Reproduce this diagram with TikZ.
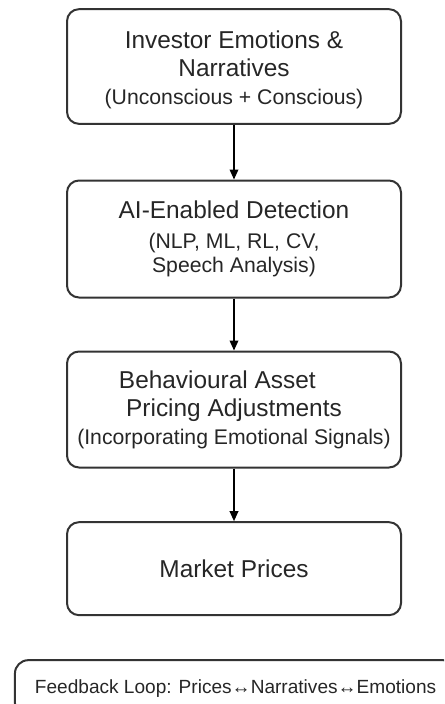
\documentclass[tikz,border=0pt]{standalone}
\usepackage{fontspec}
\setmainfont{Liberation Sans}
\usetikzlibrary{positioning,arrows.meta}
\newcommand{\subline}{\fontsize{15.9pt}{17pt}\selectfont}
\tikzset{
  stage/.style={
    rectangle,
    rounded corners=9pt,
    minimum width=250.5pt,
    minimum height=86pt,
    align=center,
    draw=black!80,
    line width=1.5pt,
    text=black!85,
    font=\fontsize{18.3pt}{20pt}\selectfont
    },
  feedback/.style={
    rectangle,
    rounded corners=10pt,
    minimum width=331pt,
    minimum height=42pt,
    align=center,
    draw=black!80,
    line width=1.5pt,
    text=black!85,
    font=\fontsize{14.3pt}{16pt}\selectfont
    },
  arrow/.style={line width=1.1pt,-{Triangle[length=7.5pt,width=6.5pt]}},
}

\begin{document}
\begin{tikzpicture}[
            x = 0.75pt, y = -0.75pt, % pixel grid
            node distance = 39.5pt % gap between boxes
        ]
  \path[use as bounding box, clip] (0,0) rectangle (444,704);

  \node[stage] (emotions) at (234,66.5)
    {\rule{0pt}{18.5pt}Investor Emotions \&\\[0.5pt] Narratives\\[1pt] {\subline (Unconscious + Conscious)}};
  \node[stage, minimum height=87.75pt] (detect) [below=41pt of emotions]
    {AI-Enabled Detection\\[3pt] {\subline (NLP, ML, RL, CV,}\\[-2pt] {\subline Speech Analysis)}};
  \node[stage, minimum height=87pt] (pricing) [below=39pt of detect]
    {Behavioural Asset\hspace*{25pt}\\[1pt] Pricing Adjustments\\[1pt] {\subline (Incorporating Emotional Signals)}};
  \node[stage, minimum height=69.75pt] (market) [below=of pricing] {Market Prices};

  \node[feedback, xshift=1.2pt] (loop) [below=32.25pt of market]
    {Feedback Loop: Prices↔Narratives↔Emotions};

  \draw[arrow] (emotions) -- (detect);
  \draw[arrow] (detect) -- (pricing);
  \draw[arrow] (pricing) -- (market);
\end{tikzpicture}
\end{document}
